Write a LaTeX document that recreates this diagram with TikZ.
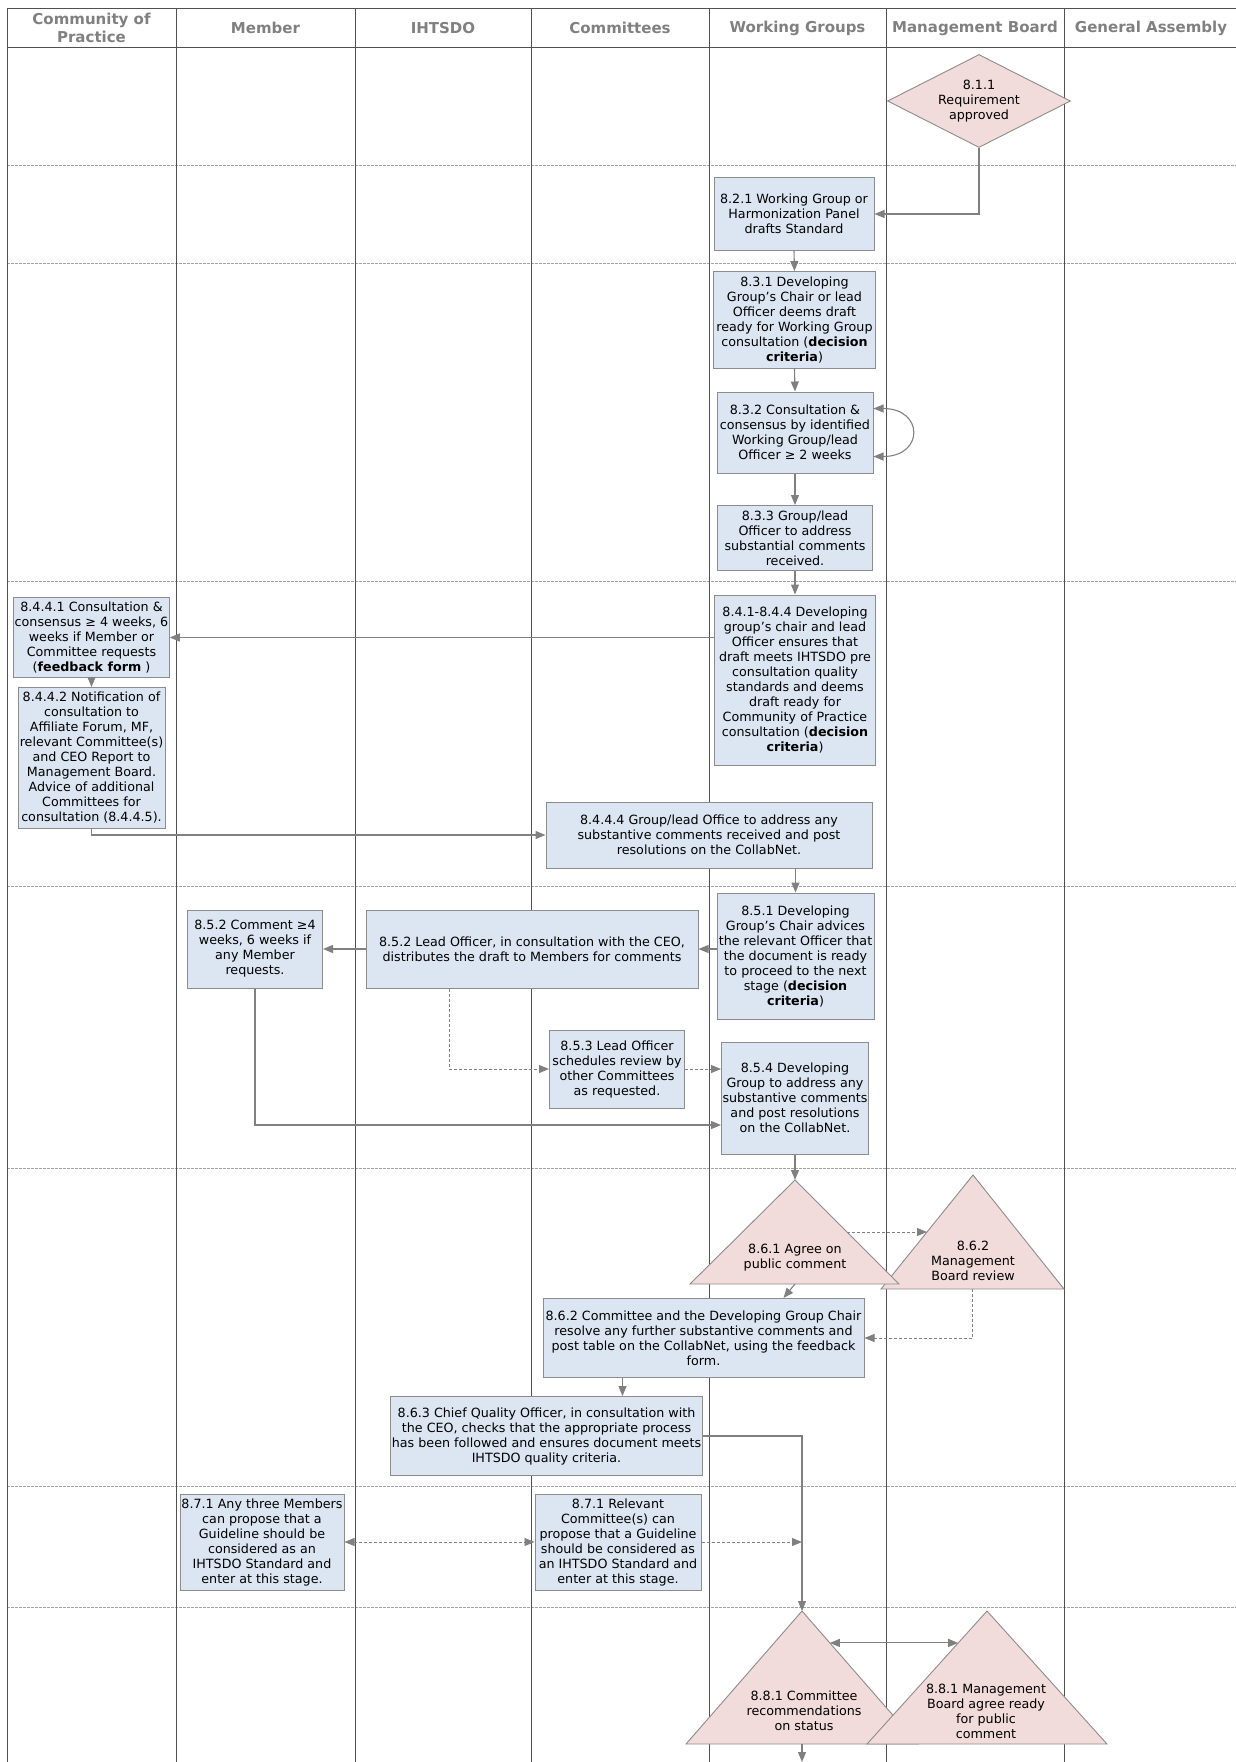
\documentclass[tikz,border=0pt]{standalone}
\usepackage{fontspec}
\setmainfont{DejaVu Sans}
\usepackage{tikz}
\usetikzlibrary{arrows.meta, shapes.geometric, calc}

\definecolor{boxfill}{HTML}{DCE6F2}
\definecolor{boxline}{HTML}{8C8C8C}
\definecolor{trifill}{HTML}{F2DCDB}
\definecolor{linkgray}{HTML}{808080}
\definecolor{headgray}{HTML}{808080}
\definecolor{lanegray}{HTML}{505050}
\definecolor{sepgray}{HTML}{A0A0A0}

\tikzset{
	stage/.style={rectangle, draw=boxline, line width=1pt, fill=boxfill, align=center, inner sep=1pt, font=\fontsize{12.7}{15}\selectfont},
	gate/.style={diamond, aspect=2, draw=boxline, line width=0.9pt, fill=trifill, align=center, inner sep=0pt, font=\fontsize{12.7}{15}\selectfont},
	tri/.style={draw=boxline, line width=0.9pt, fill=trifill},
	tritext/.style={align=center, inner sep=0pt, font=\fontsize{12.7}{15}\selectfont},
	link/.style={draw=linkgray, line width=1.1pt},
	dlink/.style={draw=linkgray, line width=0.9pt, dash pattern=on 3pt off 2pt},
	lanehead/.style={text=headgray, align=center, font=\fontsize{15}{18}\selectfont\bfseries},
	lane/.style={draw=lanegray, line width=1pt},
	rowline/.style={draw=sepgray, line width=0.9pt, dash pattern=on 2.5pt off 1.5pt}
}

\begin{document}
\begin{tikzpicture}[x=1pt, y=-1pt, >={Triangle[length=10pt,width=8pt]}]
			\useasboundingbox (0,0) rectangle (1236,1762);
			
			\foreach \y in {165,263,581,886.5,1168.5,1486.5,1607} \draw[rowline] (7,\y) -- (1236,\y);
			\foreach \x in {7,176,355,531,709,886,1064} \draw[lane] (\x,8) -- (\x,1762);
			\draw[lane] (7,8) -- (1236,8);
			\draw[lane] (7,47) -- (1236,47);
			
			\node[lanehead] (hcop) at (91.5,28) {Community of\\Practice};
			\node[lanehead] (hmem) at (265.5,28) {Member};
			\node[lanehead] (hiht) at (443,28) {IHTSDO};
			\node[lanehead] (hcom) at (620,28) {Committees};
			\node[lanehead] (hwg) at (797.5,28) {Working Groups};
			\node[lanehead] (hmb) at (975,28) {Management Board};
			\node[lanehead] (hga) at (1151,28) {General Assembly};
			
			\node[gate, minimum width=183pt, minimum height=93pt] (d811) at (979,101) {8.1.1\\Requirement\\approved};
			\node[stage, minimum width=160pt, minimum height=73pt] (b821) at (794,214) {8.2.1 Working Group or\\Harmonization Panel\\drafts Standard};
			\node[stage, minimum width=162pt, minimum height=97pt] (b831) at (794.5,320) {8.3.1 Developing\\Group's Chair or lead\\Officer deems draft\\ready for Working Group\\consultation (\textbf{decision}\\\textbf{criteria})};
			\node[stage, minimum width=156pt, minimum height=81pt] (b832) at (795,432.5) {8.3.2 Consultation \&\\consensus by identified\\Working Group/lead\\Officer ≥ 2 weeks};
			\node[stage, minimum width=155pt, minimum height=65pt] (b833) at (795,538) {8.3.3 Group/lead\\Officer to address\\substantial comments\\received.};
			\node[stage, minimum width=161pt, minimum height=170pt] (b841) at (795,680) {8.4.1-8.4.4 Developing\\group's chair and lead\\Officer ensures that\\draft meets IHTSDO pre\\consultation quality\\standards and deems\\draft ready for\\Community of Practice\\consultation (\textbf{decision}\\\textbf{criteria})};
			\node[stage, minimum width=154pt, minimum height=80pt] (b8441) at (91.5,637.5) {8.4.4.1 Consultation \&\\consensus ≥ 4 weeks, 6\\weeks if Member or\\Committee requests\\(\textbf{feedback form} )};
			\node[stage, minimum width=147pt, minimum height=141pt] (b8442) at (91.5,758) {8.4.4.2 Notification of\\consultation to\\Affiliate Forum, MF,\\relevant Committee(s)\\and CEO Report to\\Management Board.\\Advice of additional\\Committees for\\consultation (8.4.4.5).};
			\node[stage, minimum width=326pt, minimum height=66pt] (b8444) at (709,835) {8.4.4.4 Group/lead Office to address any\\substantive comments received and post\\resolutions on the CollabNet.};
			\node[stage, minimum width=157pt, minimum height=126pt] (b851) at (795.5,956) {8.5.1 Developing\\Group's Chair advices\\the relevant Officer that\\the document is ready\\to proceed to the next\\stage (\textbf{decision}\\\textbf{criteria})};
			\node[stage, minimum width=332pt, minimum height=78pt] (b852l) at (532,949) {8.5.2 Lead Officer, in consultation with the CEO,\\distributes the draft to Members for comments};
			\node[stage, minimum width=135pt, minimum height=78pt] (b852c) at (255,949) {8.5.2 Comment ≥4\\weeks, 6 weeks if\\any Member\\requests.};
			\node[stage, minimum width=135pt, minimum height=78pt] (b853) at (617,1069) {8.5.3 Lead Officer\\schedules review by\\other Committees\\as requested.};
			\node[stage, minimum width=147pt, minimum height=112pt] (b854) at (795,1098) {8.5.4 Developing\\Group to address any\\substantive comments\\and post resolutions\\on the CollabNet.};
			
			\coordinate (t862a) at (973,1175);
			\coordinate (t862l) at (881,1289);
			\coordinate (t862r) at (1064,1289);
			\coordinate (t862b) at (972.5,1289);
			\draw[tri] (t862a) -- (t862l) -- (t862r) -- cycle;
			\coordinate (t861a) at (795,1180);
			\coordinate (t861l) at (690,1284);
			\coordinate (t861r) at (899,1284);
			\coordinate (t861b) at (795,1284);
			\draw[tri] (t861a) -- (t861l) -- (t861r) -- cycle;
			\node[tritext] (x861) at (795,1258) {8.6.1 Agree on\\public comment};
			\node[tritext] (x862) at (973,1261) {8.6.2\\Management\\Board review};
			
			\node[stage, minimum width=321pt, minimum height=79pt] (b862c) at (703.5,1338) {8.6.2 Committee and the Developing Group Chair\\resolve any further substantive comments and\\post table on the CollabNet, using the feedback\\form.};
			\node[stage, minimum width=311pt, minimum height=79pt] (b863) at (546.5,1436) {8.6.3 Chief Quality Officer, in consultation with\\the CEO, checks that the appropriate process\\has been followed and ensures document meets\\IHTSDO quality criteria.};
			\node[stage, minimum width=164pt, minimum height=96pt] (b871m) at (262,1542) {8.7.1 Any three Members\\can propose that a\\Guideline should be\\considered as an\\IHTSDO Standard and\\enter at this stage.};
			\node[stage, minimum width=166pt, minimum height=96pt] (b871c) at (618,1542) {8.7.1 Relevant\\Committee(s) can\\propose that a Guideline\\should be considered as\\an IHTSDO Standard and\\enter at this stage.};
			
			\coordinate (t881a) at (802,1611);
			\coordinate (t881l) at (686,1744);
			\coordinate (t881r) at (918,1744);
			\coordinate (t881b) at (802,1744);
			\draw[tri] (t881a) -- (t881l) -- (t881r) -- cycle;
			\coordinate (t882a) at (987,1611);
			\coordinate (t882l) at (867,1744);
			\coordinate (t882r) at (1107,1744);
			\draw[tri] (t882a) -- (t882l) -- (t882r) -- cycle;
			\node[tritext] (x881c) at (804,1711) {8.8.1 Committee\\recommendations\\on status};
			\node[tritext] (x881m) at (986,1711) {8.8.1 Management\\Board agree ready\\for public\\comment};
			\coordinate (pgend) at (802,1762);
			
			\draw[link, ->] (d811.south) |- (b821.east);
			\draw[link, ->] (b821.south) -- (b831.north);
			\draw[link, ->] (b831.south) -- (b832.north);
			\draw[link, <->] ([yshift=-24pt]b832.east) to[out=0, in=0, looseness=2.7] ([yshift=24pt]b832.east);
			\draw[link, ->] (b832.south) -- (b833.north);
			\draw[link, ->] (b833.south) -- (b841.north);
			\draw[link, ->] (b841.west |- b8441.east) -- (b8441.east);
			\draw[link, ->] (b8441.south) -- (b8442.north);
			\draw[link, ->] (b8442.south) |- (b8444.west);
			\draw[link, ->] (b851.north |- b8444.south) -- (b851.north);
			\draw[link, ->] (b851.west |- b852l.east) -- (b852l.east);
			\draw[link, ->] (b852l.west) -- (b852c.east);
			\draw[dlink, ->] ([xshift=-83pt]b852l.south) |- (b853.west);
			\draw[dlink, ->] (b853.east) -- (b853.east -| b854.west);
			\draw[link, ->] (b852c.south) |- ([yshift=-27pt]b854.west);
			\draw[link, ->] (b854.south) -- (t861a);
			\draw[dlink, ->] ($(t861a)!0.5!(t861r)$) -- ($(t862a)!0.5!(t862l)$);
			\draw[link, ->] (t861b) -- ([xshift=80pt]b862c.north);
			\draw[dlink, ->] (t862b) |- (b862c.east);
			\draw[link, ->] ([xshift=76pt]b863.north |- b862c.south) -- ([xshift=76pt]b863.north);
			\draw[link, ->] (b863.east) -| (t881a);
			\draw[dlink, <->] (b871m.east) -- (b871c.west);
			\draw[dlink, ->] (b871c.east) -- (b871c.east -| t881a);
			\draw[link, <->] ($(t881a)!0.24!(t881r)$) -- ($(t882a)!0.24!(t882l)$);
			\draw[link, ->] (t881b) -- (pgend);
		\end{tikzpicture}
\end{document}
